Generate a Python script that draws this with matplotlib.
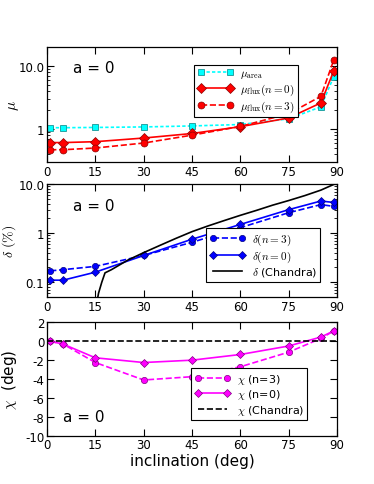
import numpy as np
import matplotlib
matplotlib.use('Agg')
import matplotlib.pyplot as plt
from matplotlib.ticker import FixedLocator, FixedFormatter, LogLocator, NullFormatter

plt.rcParams['font.family'] = 'DejaVu Sans'
plt.rcParams['mathtext.fontset'] = 'cm'
plt.rcParams['axes.unicode_minus'] = False

#=============== data ===============
incl = [1, 5, 15, 30, 45, 60, 75, 85, 89]

mu_area  = [1.05, 1.05, 1.06, 1.08, 1.12, 1.18, 1.45, 2.25, 6.8]
mu_flux0 = [0.61, 0.61, 0.63, 0.72, 0.85, 1.09, 1.50, 2.60, 8.4]
mu_flux3 = [0.47, 0.47, 0.50, 0.60, 0.80, 1.10, 1.75, 3.30, 12.5]

delta3 = [0.17, 0.18, 0.21, 0.35, 0.65, 1.29, 2.6, 3.8, 3.5]
delta0 = [0.11, 0.11, 0.16, 0.35, 0.75, 1.50, 3.0, 4.5, 4.2]

incl_ch  = [15.5, 16, 17, 18, 20, 25, 30, 35, 40, 45, 50, 55, 60, 65, 70, 75, 80, 85, 89]
delta_ch = [0.04, 0.06, 0.10, 0.155, 0.18, 0.28, 0.40, 0.56, 0.78, 1.07,
            1.40, 1.80, 2.30, 2.90, 3.70, 4.60, 5.80, 7.50, 9.8]

chi3 = [0.0, -0.3, -2.25, -4.1, -3.75, -2.7, -1.15, 0.3, 1.1]
chi0 = [0.0, -0.3, -1.75, -2.25, -2.0, -1.4, -0.5, 0.45, 1.1]
chi_ch = [0.0, 0.0]
incl_ch_line = [0, 90]

xticks = [0, 15, 30, 45, 60, 75, 90]

#=============== figure ===============
fig = plt.figure(figsize=(3.74, 4.85), dpi=100)
L, W = 0.1257, 0.7754
ax1 = fig.add_axes([L, 0.6639, W, 0.2371])
ax2 = fig.add_axes([L, 0.3856, W, 0.2330])
ax3 = fig.add_axes([L, 0.0996, W, 0.2336])

def style(ax):
	ax.set_xlim(0, 90)
	ax.set_xticks(xticks)
	ax.tick_params(which='both', direction='in', top=True, right=True, labelsize=8.5, pad=2)
	ax.tick_params(which='major', length=5, width=0.8)
	ax.tick_params(which='minor', length=2.5, width=0.6)
	for s in ax.spines.values():
		s.set_linewidth(0.9)

def add_legend(ax, loc, anchor):
	leg = ax.legend(loc=loc, bbox_to_anchor=anchor, fontsize=8,
					fancybox=False, edgecolor='black', framealpha=1, numpoints=2,
					handlelength=3.2, borderpad=0.3, labelspacing=0.15, handletextpad=0.6)
	leg.get_frame().set_linewidth(0.8)

# ---- panel 1 ----
ax1.set_yscale('log')
ax1.plot(incl, mu_area, color='cyan', ls=(0, (2, 1.3)), lw=1.2, marker='s', ms=4.5,
		 mec='teal', mew=0.5, label=r'$\mu_{\rm area}$')
ax1.plot(incl, mu_flux0, color='red', ls='-', lw=1.2, marker='D', ms=5.5,
		 mec='darkred', mew=0.5, label=r'$\mu_{\rm flux}(n=0)$')
ax1.plot(incl, mu_flux3, color='red', ls='--', lw=1.2, marker='o', ms=5,
		 mec='darkred', mew=0.5, label=r'$\mu_{\rm flux}(n=3)$')
ax1.set_ylim(0.3, 20)
ax1.yaxis.set_major_locator(FixedLocator([1, 10]))
ax1.yaxis.set_major_formatter(FixedFormatter(['1', '10.0']))
ax1.yaxis.set_minor_locator(LogLocator(subs=np.arange(2, 10)))
ax1.yaxis.set_minor_formatter(NullFormatter())
ax1.set_ylabel(r'$\mu$', fontsize=11)
ax1.yaxis.set_label_coords(-0.09, 0.5)
ax1.text(0.089, 0.82, 'a = 0', transform=ax1.transAxes, fontsize=11, va='center')
add_legend(ax1, 'upper right', (0.883, 0.896))
style(ax1)

# ---- panel 2 ----
ax2.set_yscale('log')
ax2.plot(incl, delta3, color='blue', ls='--', lw=1.2, marker='o', ms=4.5,
		 mec='navy', mew=0.5, label=r'$\delta (n=3)$')
ax2.plot(incl, delta0, color='blue', ls='-', lw=1.2, marker='D', ms=4,
		 mec='navy', mew=0.5, label=r'$\delta (n=0)$')
ax2.plot(incl_ch, delta_ch, color='black', ls='-', lw=1.2, label=r'$\delta$ (Chandra)')
ax2.set_ylim(0.05, 10)
ax2.yaxis.set_major_locator(FixedLocator([0.1, 1, 10]))
ax2.yaxis.set_major_formatter(FixedFormatter(['0.1', '1', '10.0']))
ax2.yaxis.set_minor_locator(LogLocator(subs=np.arange(2, 10)))
ax2.yaxis.set_minor_formatter(NullFormatter())
ax2.set_ylabel(r'$\delta\ (\%)$', fontsize=10)
ax2.yaxis.set_label_coords(-0.100, 0.5)
ax2.text(0.089, 0.81, 'a = 0', transform=ax2.transAxes, fontsize=11, va='center')
add_legend(ax2, 'lower right', (0.962, 0.086))
style(ax2)

# ---- panel 3 ----
ax3.plot(incl, chi3, color='magenta', ls='--', lw=1.2, marker='o', ms=4.5,
		 mec='purple', mew=0.5, label=r'$\chi$ (n=3)')
ax3.plot(incl, chi0, color='magenta', ls='-', lw=1.2, marker='D', ms=4,
		 mec='purple', mew=0.5, label=r'$\chi$ (n=0)')
ax3.plot(incl_ch_line, chi_ch, color='black', ls='--', lw=1.2, label=r'$\chi$ (Chandra)')
ax3.set_ylim(-10, 2)
ax3.set_yticks([2, 0, -2, -4, -6, -8, -10])
ax3.set_ylabel(r'$\chi$  (deg)', fontsize=11)
ax3.yaxis.set_label_coords(-0.097, 0.5)
ax3.set_xlabel('inclination (deg)', fontsize=11, labelpad=1)
ax3.text(0.056, 0.17, 'a = 0', transform=ax3.transAxes, fontsize=11, va='center')
add_legend(ax3, 'lower right', (0.917, 0.088))
style(ax3)

fig.savefig('out.png', dpi=100)
